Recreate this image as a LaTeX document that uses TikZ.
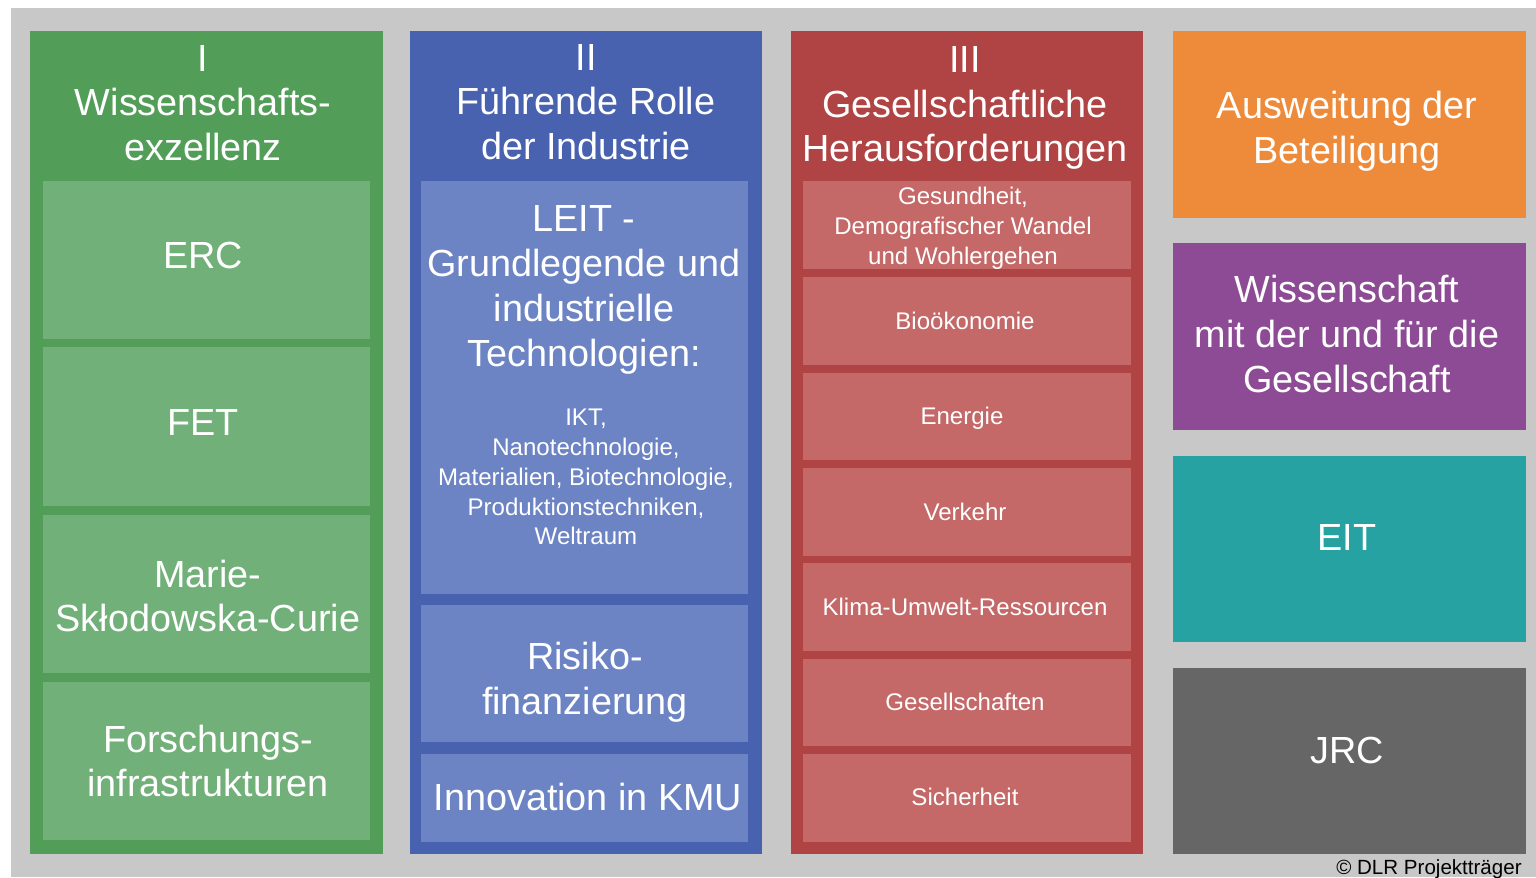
\documentclass[tikz,border=0pt]{standalone}
\usepackage{fontspec}
\setmainfont{Liberation Sans}
\definecolor{bggray}{HTML}{C8C8C8}
\definecolor{grnout}{HTML}{529E58}
\definecolor{grnin}{HTML}{72B07A}
\definecolor{bluout}{HTML}{4862B0}
\definecolor{bluin}{HTML}{6C84C4}
\definecolor{redout}{HTML}{B04444}
\definecolor{redin}{HTML}{C46868}
\definecolor{orng}{HTML}{EE8B3A}
\definecolor{purp}{HTML}{8D4B95}
\definecolor{teal}{HTML}{27A2A3}
\definecolor{dgray}{HTML}{666666}
\begin{document}
\begin{tikzpicture}[x=0.02cm,y=-0.02cm,
    lbl/.style={text=white,align=center,inner sep=0pt,font=\fontsize{21.5}{25.5}\selectfont},
    sml/.style={text=white,align=center,inner sep=0pt,font=\fontsize{13.7}{17}\selectfont}]
  \useasboundingbox (0,0) rectangle (1536,877);
  \fill[white] (0,0) rectangle (1536,877);
  \fill[bggray] (11,8) rectangle (1536,877);
  % pillar I
  \fill[grnout] (30,31) rectangle (383,854);
  \fill[grnin] (43,181) rectangle (370,339);
  \fill[grnin] (43,347) rectangle (370,506);
  \fill[grnin] (43,515) rectangle (370,673);
  \fill[grnin] (43,682) rectangle (370,840);
  \node[lbl] (ptI) at (203,103) {I\\Wissenschafts-\\exzellenz};
  \node[lbl] (erc) at (203,255) {ERC};
  \node[lbl] (fet) at (203,422) {FET};
  \node[lbl] (msc) at (208,596) {Marie-\\Skłodowska-Curie};
  \node[lbl] (infra) at (208,761) {Forschungs-\\infrastrukturen};
  % pillar II
  \fill[bluout] (410,31) rectangle (762,854);
  \fill[bluin] (421,181) rectangle (748,594);
  \fill[bluin] (421,605) rectangle (748,742);
  \fill[bluin] (421,754) rectangle (748,842);
  \node[lbl] (ptII) at (586,102) {II\\Führende Rolle\\der Industrie};
  \node[lbl] (leit) at (584,290) {LEIT -\\Grundlegende und\\industrielle\\Technologien:};
  \node[sml] (tech) at (586,477) {IKT,\\Nanotechnologie,\\Materialien, Biotechnologie,\\Produktionstechniken,\\Weltraum};
  \node[lbl] (risk) at (585,682) {Risiko-\\finanzierung};
  \node[lbl] (kmu) at (588,797) {Innovation in KMU};
  % pillar III
  \fill[redout] (791,31) rectangle (1143,854);
  \fill[redin] (803,181) rectangle (1131,269);
  \fill[redin] (803,277) rectangle (1131,365);
  \fill[redin] (803,373) rectangle (1131,460);
  \fill[redin] (803,468) rectangle (1131,556);
  \fill[redin] (803,563) rectangle (1131,651);
  \fill[redin] (803,659) rectangle (1131,746);
  \fill[redin] (803,754) rectangle (1131,842);
  \node[lbl] (ptIII) at (965,108) {III\\Gesellschaftliche\\Herausforderungen};
  \node[sml] (health) at (963,228) {Gesundheit,\\Demografischer Wandel\\und Wohlergehen};
  \node[sml] (bio) at (965,321) {Bioökonomie};
  \node[sml] (nrg) at (962,418) {Energie};
  \node[sml] (trans) at (965,512) {Verkehr};
  \node[sml] (clim) at (965,607) {Klima-Umwelt-Ressourcen};
  \node[sml] (soc) at (965,702) {Gesellschaften};
  \node[sml] (sec) at (965,797) {Sicherheit};
  % right column
  \fill[orng] (1173,31) rectangle (1526,218);
  \fill[purp] (1173,243) rectangle (1526,430);
  \fill[teal] (1173,456) rectangle (1526,642);
  \fill[dgray] (1173,668) rectangle (1526,854);
  \node[lbl] (part) at (1347,131) {Ausweitung der\\Beteiligung};
  \node[lbl] (swafs) at (1347,334) {Wissenschaft\\mit der und für die\\Gesellschaft};
  \node[lbl] (eit) at (1347,537) {EIT};
  \node[lbl] (jrc) at (1347,750) {JRC};
  \node[anchor=base east,inner sep=0pt,font=\fontsize{11.7}{14}\selectfont] (copy) at (1522,874) {© DLR Projektträger};
\end{tikzpicture}
\end{document}
